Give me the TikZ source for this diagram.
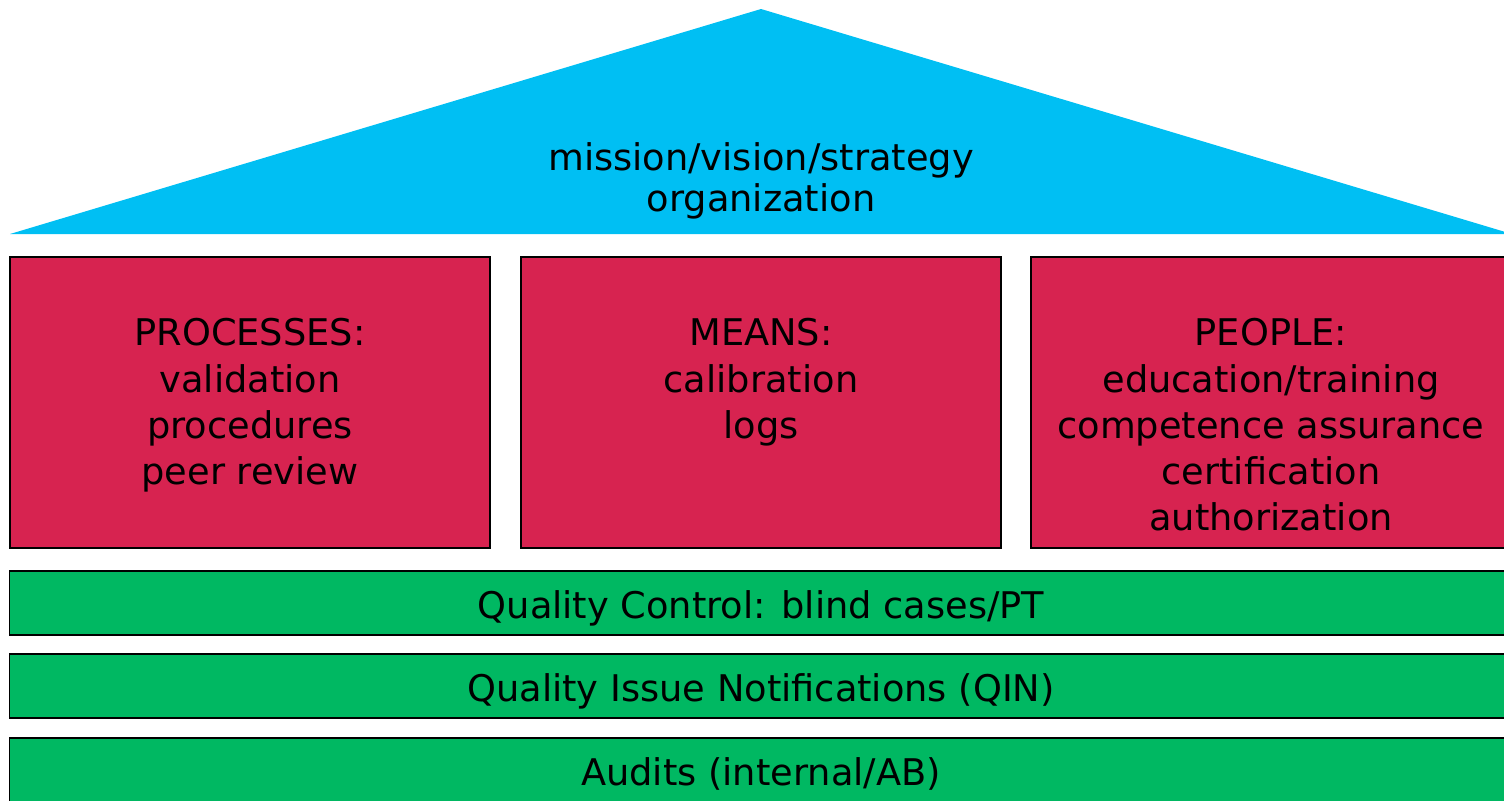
\documentclass[tikz,border=0pt]{standalone}
\usepackage{fontspec}
\setmainfont{DejaVu Sans}
\usetikzlibrary{positioning}

\definecolor{roofblue}{RGB}{0,191,243}
\definecolor{pillarred}{RGB}{215,35,80}
\definecolor{basegreen}{RGB}{0,184,98}

\begin{document}
\begin{tikzpicture}[x=0.01cm,y=-0.01cm]
            \tikzset{pillar/.style = {shape=rectangle,draw,line width=0.5pt,fill=pillarred,minimum width=4.8cm,minimum height=2.91cm}}
            \tikzset{layer/.style = {shape=rectangle,draw,line width=0.5pt,fill=basegreen,minimum width=15.02cm,minimum height=0.64cm,text height=10pt,text depth=1.4pt,font=\fontsize{10.45}{13.1}\selectfont}}
            \tikzset{label/.style = {align=center,anchor=north,inner sep=0pt,font=\fontsize{10.45}{13.1}\selectfont}}
            \useasboundingbox (0,0) rectangle (1504,800);

            % roof
            \fill[roofblue] (10,234) -- (761,9) -- (1512,234) -- cycle;
            \node[label,font=\fontsize{10.45}{11.7}\selectfont] (roof) at (761,142) {mission/vision/strategy\\organization};

            % pillars
            \node[pillar] (proc) at (250,402.5) {};
            \node[pillar] (means) at (761,402.5) {};
            \node[pillar] (people) at (1271,402.5) {};
            \node[label] (proctxt) at (250,318) {PROCESSES:\\validation\\procedures\\peer review};
            \node[label] (meanstxt) at (761,318) {MEANS:\\calibration\\logs};
            \node[label] (peopletxt) at (1271,318) {PEOPLE:\\education/training\\competence assurance\\certification\\authorization};

            % foundation
            \node[layer] (qc) at (761,603) {Quality Control: blind cases/PT};
            \node[layer] (qin) at (761,686) {Quality Issue Notifications (QIN)};
            \node[layer] (audit) at (761,770) {Audits (internal/AB)};
        \end{tikzpicture}
\end{document}
